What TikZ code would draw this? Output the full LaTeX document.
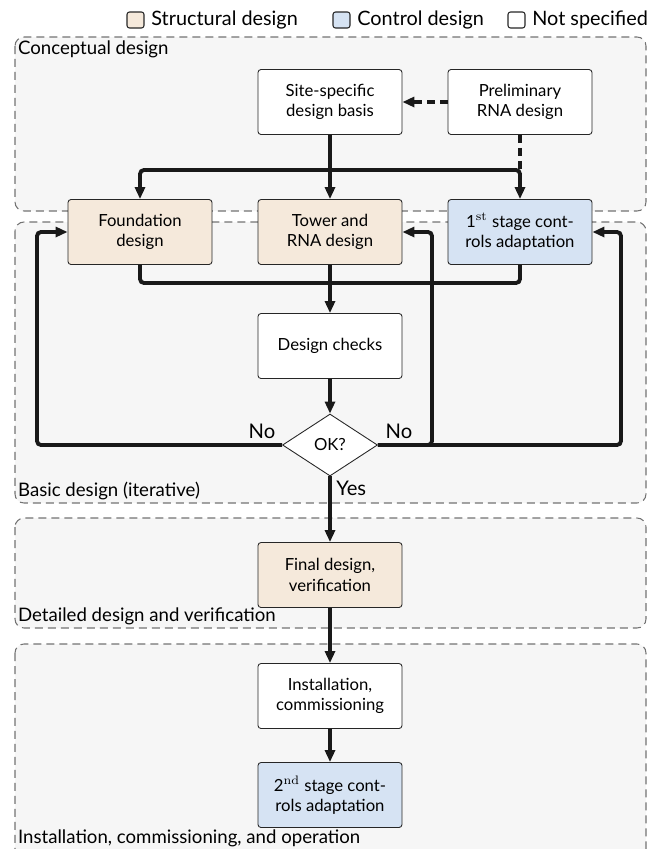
\documentclass[tikz,border=0pt]{standalone}
\usepackage[no-math]{fontspec}
\setmainfont{Lato}
\usetikzlibrary{arrows.meta,shapes.geometric}
\definecolor{structcol}{RGB}{245,233,219}
\definecolor{ctrlcol}{RGB}{214,227,243}
\definecolor{phasebg}{RGB}{246,246,246}
\tikzset{
  phase/.style={draw=black!55, dash pattern=on 0.16cm off 0.1cm, fill=phasebg, rounded corners=0.18cm, line width=0.6pt},
  phaselabel/.style={inner sep=1pt, font=\fontsize{10.6}{12}\selectfont},
  legendtext/.style={inner sep=0pt, font=\fontsize{11.3}{14}\selectfont},
  box/.style={draw=black!85, fill=white, rounded corners=0.06cm, minimum width=2.88cm, minimum height=1.3cm, align=center, font=\fontsize{9.5}{11.5}\selectfont, line width=0.5pt},
  structbox/.style={box, fill=structcol},
  ctrlbox/.style={box, fill=ctrlcol},
  okbox/.style={diamond, draw=black!85, fill=white, minimum width=1.9cm, minimum height=1.24cm, inner sep=0pt, font=\fontsize{9.5}{12}\selectfont, line width=0.5pt},
  link/.style={line width=2.2pt, draw=black!90, rounded corners=0.08cm},
  flow/.style={link, -{Triangle[length=0.24cm,width=0.2cm]}},
  dashlink/.style={link, dash pattern=on 0.16cm off 0.1cm},
  dashflow/.style={flow, dash pattern=on 0.16cm off 0.1cm},
  answer/.style={inner sep=0pt, font=\fontsize{11.5}{13}\selectfont}
}
\begin{document}
\begin{tikzpicture}[x=0.02cm,y=-0.02cm]
  \useasboundingbox (0,0) rectangle (649,849);
  % phases
  \draw[phase] (15,37) rectangle (646,211);
  \draw[phase] (15,222) rectangle (646,503);
  \draw[phase] (15,518) rectangle (646,628);
  \draw[phase] (15,644) rectangle (646,875);
  \node[phaselabel, anchor=north west] (ph1) at (16,39) {Conceptual design};
  \node[phaselabel, anchor=south west] (ph2) at (16,502) {Basic design (iterative)};
  \node[phaselabel, anchor=south west] (ph3) at (16,627) {Detailed design and verification};
  \node[phaselabel, anchor=base west] (ph4) at (16,843) {Installation, commissioning, and operation};
  % legend
  \foreach \c/\x/\t in {structcol/127/Structural design, ctrlcol/333/Control design, white/508/Not specified} {
    \draw[fill=\c, draw=black!85, line width=0.6pt, rounded corners=0.05cm] (\x,12) rectangle ++(17,16);
    \node[legendtext, anchor=west] (key-\x) at (\x+24,20) {\t};
  }
  % boxes
  \node[box] (site) at (330,102) {Site-specific\\design basis};
  \node[box] (prelim) at (520,102) {Preliminary\\RNA design};
  \node[structbox] (found) at (140,232) {Foundation\\design};
  \node[structbox] (tower) at (330,232) {Tower and\\RNA design};
  \node[ctrlbox] (ctrl1) at (520,232) {1$^{\mathrm{st}}$ stage cont-\\rols adaptation};
  \node[box] (check) at (330,346) {Design checks};
  \node[okbox] (ok) at (330,445) {OK?};
  \node[structbox] (final) at (330,575) {Final design,\\verification};
  \node[box] (install) at (330,696) {Installation,\\commissioning};
  \node[ctrlbox] (ctrl2) at (330,795) {2$^{\mathrm{nd}}$ stage cont-\\rols adaptation};
  \coordinate (split) at (330,170);
  \coordinate (merge) at (330,283);
  \coordinate (backL) at (37,232);
  \coordinate (backM) at (432,232);
  \coordinate (backR) at (621,232);
  % connectors
  \draw[dashflow] (prelim.west) -- (site.east);
  \draw[dashlink] (prelim.south) -- (prelim.south |- split);
  \draw[flow] (site.south) -- (tower.north);
  \draw[flow] (split) -| (found.north);
  \draw[flow] (split) -| (ctrl1.north);
  \draw[link] (found.south) |- (merge);
  \draw[link] (ctrl1.south) |- (merge);
  \draw[flow] (tower.south) -- (check.north);
  \draw[flow] (check.south) -- (ok.north);
  \draw[flow] (ok.west) -| (backL) -- (found.west);
  \draw[flow] (ok.east) -| (backM) -- (tower.east);
  \draw[flow] (ok.east) -| (backR) -- (ctrl1.east);
  \draw[flow] (ok.south) -- (final.north);
  \draw[flow] (final.south) -- (install.north);
  \draw[flow] (install.south) -- (ctrl2.north);
  \node[answer, anchor=base] (noL) at (262,438) {No};
  \node[answer, anchor=base] (noR) at (399,438) {No};
  \node[answer, anchor=base west] (yes) at (336,495) {Yes};
\end{tikzpicture}
\end{document}
